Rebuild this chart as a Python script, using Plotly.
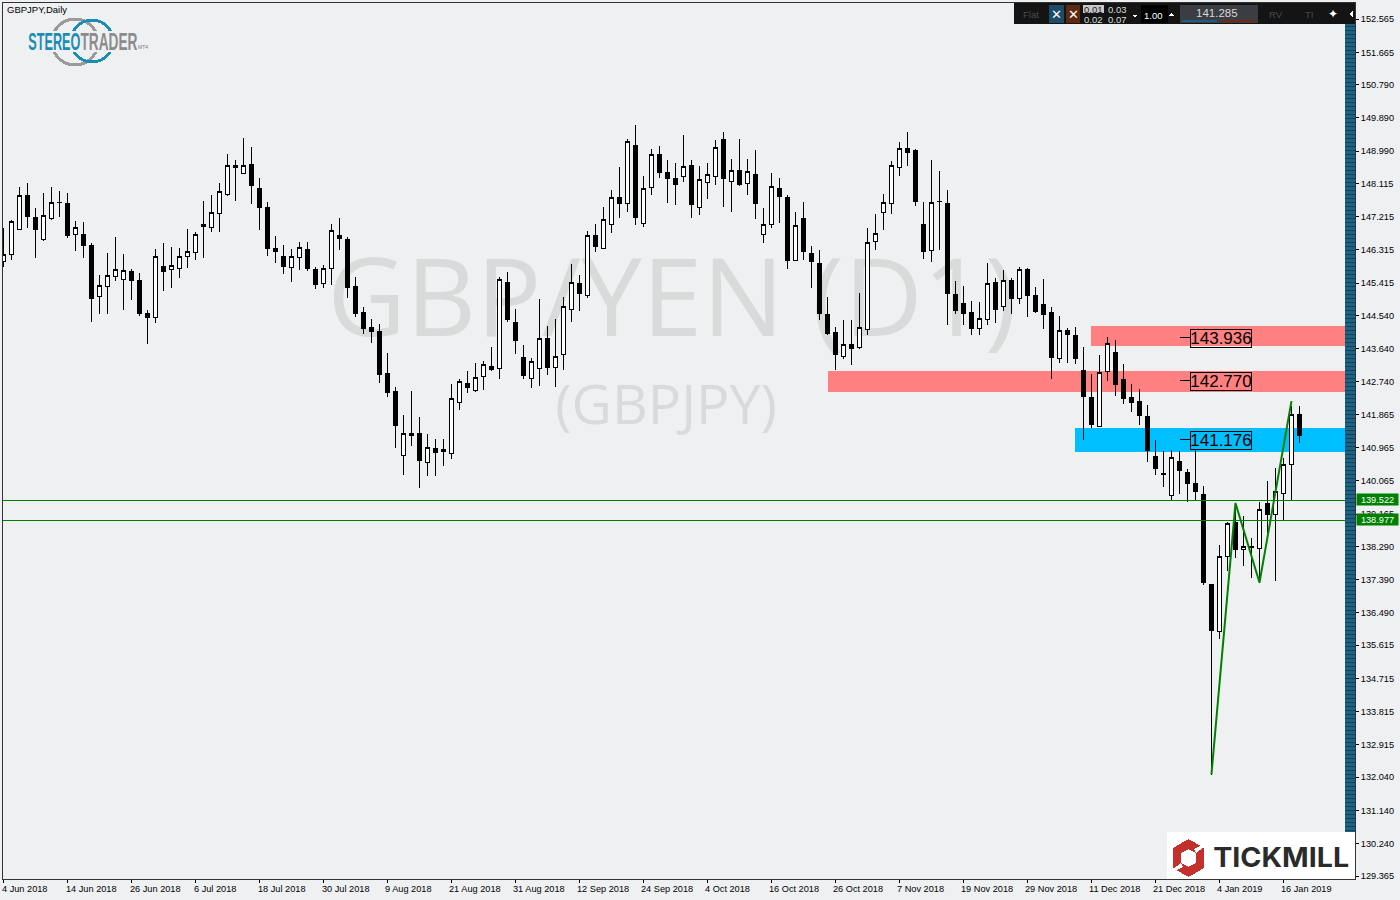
import plotly.graph_objects as go

opens = [146.01,146.20,146.87,147.79,147.20,146.60,147.17,147.59,147.58,146.74,
146.74,146.44,145.06,145.33,145.60,145.52,145.74,145.49,144.60,144.48,
145.87,145.79,145.82,146.14,146.25,147.01,146.93,147.30,147.82,148.59,
148.39,148.63,147.98,147.47,146.36,146.14,145.84,146.11,146.33,145.79,
145.40,145.82,146.71,146.60,145.33,144.63,144.22,144.11,142.97,142.49,
140.76,141.30,141.35,140.57,140.93,140.90,140.81,142.19,142.69,142.51,
142.90,143.17,143.11,145.44,144.36,143.41,142.84,143.11,143.92,143.14,
143.49,144.71,145.41,145.09,146.71,146.36,147.01,147.74,147.58,149.15,
147.03,148.01,148.90,148.41,148.25,148.30,148.60,147.47,148.14,148.31,
149.31,148.17,148.47,148.12,148.36,146.74,147.01,147.98,147.74,146.03,
147.17,146.22,145.95,144.57,144.09,143.44,143.76,143.68,144.17,146.55,
147.33,147.58,148.55,149.05,149.02,147.01,146.30,147.63,147.58,145.11,
144.87,144.63,144.19,144.43,145.44,144.79,145.49,145.01,145.79,145.09,
144.84,144.62,143.38,144.14,144.00,143.05,142.32,141.54,143.03,143.54,
142.81,142.32,142.22,141.81,140.73,140.27,139.67,140.59,140.30,140.00,
139.70,137.26,135.99,138.02,138.94,138.21,138.29,138.24,139.46,139.16,
139.72,140.51,141.86]
highs = [146.90,147.12,148.02,148.13,147.44,147.85,148.02,147.91,147.85,147.10,
147.06,146.49,145.63,146.23,146.66,146.20,145.79,145.68,144.68,146.33,
146.49,146.39,146.37,146.87,146.79,147.63,147.79,148.14,148.91,148.75,
149.34,149.09,148.25,147.60,146.68,146.44,146.33,146.52,146.52,145.84,
145.92,147.03,147.17,146.66,145.57,144.76,144.44,144.30,143.52,142.60,
141.84,142.49,141.78,141.32,141.19,141.21,142.68,142.81,143.03,143.25,
143.30,143.68,145.57,145.71,144.71,143.73,143.38,144.98,144.25,144.44,
145.03,145.93,145.65,146.82,147.03,147.47,147.93,148.55,149.31,149.71,
148.31,149.04,149.12,148.74,148.67,149.44,148.74,148.60,148.66,149.28,
149.52,148.77,149.31,148.79,149.01,147.44,148.41,148.25,147.79,147.33,
147.60,146.41,146.30,145.03,144.22,144.41,144.41,145.14,146.90,147.28,
147.82,148.71,149.25,149.50,149.06,147.60,148.74,148.44,147.93,145.47,
145.33,144.92,144.90,145.95,145.55,145.76,145.55,145.84,145.82,145.30,
145.52,144.76,144.54,144.19,144.22,143.70,142.95,143.46,143.95,143.87,
143.24,142.68,142.54,142.11,141.16,140.86,140.89,140.86,140.38,140.89,
139.92,137.26,138.33,138.94,139.45,139.10,138.53,139.48,140.05,140.40,
140.67,142.10,142.08]
lows = [145.84,146.04,146.87,146.92,146.10,146.57,147.13,147.20,146.65,146.29,
146.11,144.37,144.59,144.59,145.48,144.70,144.97,144.54,143.78,144.35,
145.19,145.29,145.56,145.83,146.05,146.11,146.81,146.81,147.78,147.65,
148.39,147.57,146.86,146.16,145.97,145.67,145.46,145.78,145.75,145.27,
145.29,145.37,146.32,145.02,144.51,144.05,143.80,142.72,142.34,140.94,
140.23,141.02,139.88,140.20,140.19,140.46,140.66,141.98,142.43,142.48,
142.53,143.05,142.83,144.37,143.51,142.83,142.59,142.64,142.94,142.61,
143.07,144.37,144.67,145.02,146.27,146.33,146.78,147.19,147.35,147.00,
146.94,147.81,148.27,147.59,147.54,148.16,147.19,147.27,147.70,148.08,
147.49,147.35,148.05,147.81,147.16,146.51,146.92,147.05,145.81,146.03,
146.05,145.29,144.43,144.02,143.07,143.35,143.21,143.62,144.02,146.30,
146.86,147.30,148.33,148.60,147.51,146.08,146.00,146.32,144.27,144.59,
144.29,144.02,144.02,144.27,144.35,144.65,144.59,144.86,144.51,144.60,
144.18,142.83,143.26,143.26,143.23,141.18,141.50,141.54,142.78,142.37,
142.15,141.94,141.58,140.58,140.23,139.91,139.55,139.72,139.50,139.53,
137.25,132.10,135.77,137.62,137.98,137.77,137.44,137.31,138.64,137.36,
139.01,139.51,141.10]
closes = [146.20,147.09,147.79,147.21,146.87,147.25,147.60,147.60,146.70,146.93,
146.43,144.99,145.36,145.63,145.79,145.76,145.48,144.59,144.48,146.14,
145.73,145.90,146.14,146.28,146.74,146.94,147.33,147.90,148.60,148.54,
148.60,148.05,147.46,146.35,146.27,145.86,146.14,146.38,145.81,145.37,
145.82,146.84,146.62,145.29,144.59,144.18,144.10,142.94,142.45,141.56,
141.35,141.35,140.61,140.97,140.83,140.85,142.30,142.76,142.59,142.87,
143.22,143.07,145.52,144.43,143.87,142.91,143.30,143.92,143.13,143.44,
144.79,145.44,145.14,146.71,146.41,147.14,147.74,147.58,149.25,147.19,
147.98,148.90,148.41,148.24,148.08,148.58,147.54,148.22,148.36,149.09,
148.24,148.47,148.08,148.44,147.57,147.01,148.04,147.76,146.02,146.98,
146.27,146.00,144.59,144.05,143.48,143.76,143.65,144.22,146.52,146.76,
147.60,148.60,149.06,148.95,147.62,146.27,147.60,147.62,145.13,144.67,
144.59,144.19,144.46,145.41,144.70,145.49,145.00,145.79,145.08,144.65,
144.56,143.41,144.14,144.02,143.37,142.34,141.58,143.00,143.79,142.67,
142.29,142.18,141.83,140.88,140.39,140.23,140.70,140.34,139.99,139.77,
137.31,136.01,138.02,138.91,138.20,138.29,138.26,139.29,139.16,139.78,
140.51,141.86,141.30]

date_labels = ["4 Jun 2018","14 Jun 2018","26 Jun 2018","6 Jul 2018","18 Jul 2018","30 Jul 2018",
"9 Aug 2018","21 Aug 2018","31 Aug 2018","12 Sep 2018","24 Sep 2018","4 Oct 2018","16 Oct 2018",
"26 Oct 2018","7 Nov 2018","19 Nov 2018","29 Nov 2018","11 Dec 2018","21 Dec 2018","4 Jan 2019","16 Jan 2019"]
date_bars = [i * 8 for i in range(len(date_labels))]

price_ticks = [152.565,151.665,150.790,149.890,148.990,148.115,147.215,146.315,145.415,144.540,
143.640,142.740,141.865,140.965,140.065,139.165,138.290,137.390,136.490,135.615,134.715,
133.815,132.915,132.040,131.140,130.240,129.365]

support_lines = [139.522, 138.977]
zone_labels = [143.936, 142.770, 141.176]
zone_tops = [144.255, 143.036, 141.494]
zone_bottoms = [143.713, 142.468, 140.844]
zone_starts = [135.94, 103.06, 133.94]
zone_colors = ["#FF8080", "#FF8080", "#00BFFF"]
wave_bars = [151, 154, 157, 161]
wave_prices = [132.12, 139.46, 137.31, 142.22]

FONT = "Liberation Sans"
ZONE_END = 167.69

def px(x):
    return (x - 3) / 1352
def py(y):
    return (879 - y) / 876

shapes = []
annotations = []

def rect(x0, y0, x1, y1, fill, line=None):
    shapes.append(dict(type="rect", xref="paper", yref="paper", x0=px(x0), x1=px(x1), y0=py(y0), y1=py(y1),
                       fillcolor=fill, line=dict(width=1 if line else 0, color=line or fill), layer="above"))

def txt(x, y, s, size=10, color="#000000", anchor="center", family=FONT, weight=None):
    f = dict(size=size, color=color, family=family)
    if weight:
        f["weight"] = weight
    annotations.append(dict(xref="paper", yref="paper", x=px(x), y=py(y), text=s, showarrow=False,
                            xanchor=anchor, yanchor="middle", font=f, borderpad=0, borderwidth=0))

def poly(points, fill):
    path = "M " + " L ".join(f"{px(a):.5f},{py(b):.5f}" for a, b in points) + " Z"
    shapes.append(dict(type="path", xref="paper", yref="paper", path=path, fillcolor=fill, line=dict(width=0), layer="above"))

# zones below the candles
for t, b, s, c in zip(zone_tops, zone_bottoms, zone_starts, zone_colors):
    shapes.append(dict(type="rect", xref="x2", yref="y2", x0=s, x1=ZONE_END, y0=b, y1=t,
                       fillcolor=c, line=dict(width=0), layer="below"))

# support lines
for v in support_lines:
    shapes.append(dict(type="line", xref="paper", yref="y2", x0=0, x1=1, y0=v, y1=v,
                       line=dict(color="#008000", width=1), layer="above"))
    annotations.append(dict(xref="paper", yref="y2", x=px(1356), y=v, text=f"{v:.3f}", showarrow=False,
                            xanchor="left", yanchor="middle", width=41, height=11, bgcolor="#008000", yshift=1,
                            font=dict(size=9.2, color="#FFFFFF", family=FONT), borderpad=0))

# zone labels
for v in zone_labels:
    shapes.append(dict(type="line", xref="x2", yref="y2", x0=147.06, x1=148.31, y0=v, y1=v,
                       line=dict(color="#000000", width=1), layer="above"))
    annotations.append(dict(xref="x2", yref="y2", x=152.19, y=v, text=f"{v:.3f}", showarrow=False,
                            xanchor="center", yanchor="middle", width=60, height=17, yshift=-1,
                            bordercolor="#000000", borderwidth=1, borderpad=0,
                            font=dict(size=17, color="#000000", family=FONT)))

# date labels
for b, s in zip(date_bars, date_labels):
    annotations.append(dict(xref="x2", yref="paper", x=b, y=0, text=s, showarrow=False, xanchor="left",
                            yanchor="top", yshift=-3, xshift=-4, font=dict(size=9.2, color="#000000", family=FONT)))

# striped strip
rect(1345, 24, 1355, 832, "#1E6384")
stripe = " ".join(f"M {px(1345):.5f},{py(y + 0.5):.5f} L {px(1355):.5f},{py(y + 0.5):.5f}" for y in range(26, 832, 4))
shapes.append(dict(type="path", xref="paper", yref="paper", path=stripe, line=dict(color="#123F57", width=1), layer="above"))

# tickmill logo
rect(1167, 832, 1355, 879, "#FFFFFF")
poly([(1188.5, 839), (1204, 848), (1204, 868), (1188.5, 877), (1173, 868), (1173, 848)], "#C4302B")
poly([(1188.5, 849), (1196, 853), (1196, 863), (1188.5, 867), (1181, 863), (1181, 853)], "#FFFFFF")
poly([(1194, 849), (1204, 844), (1204, 847), (1196, 853)], "#FFFFFF")
poly([(1183, 867), (1173, 872), (1173, 869), (1181, 863)], "#FFFFFF")
txt(1281, 857.5, "TICKMILL", 27, "#2B2B2B", "center", "Inter", 700)

# stereotrader logo
for cx, cy, r, c in [(75, 42, 23, "#9A9A9A"), (92, 41, 21, "#1B8DB4")]:
    shapes.append(dict(type="circle", xref="paper", yref="paper", x0=px(cx - r), x1=px(cx + r), y0=py(cy + r), y1=py(cy - r),
                       line=dict(color=c, width=3), fillcolor="rgba(0,0,0,0)", layer="above"))
rect(26, 31, 136, 52, "#EFF0F2")
txt(54, 42, "STEREO", 23, "#1B8DB4", "center", FONT, 700)
txt(109, 42, "TRADER", 23, "#8C8C8C", "center", FONT, 700)
txt(143, 47, "MT4", 5, "#777777", "center")
txt(7, 10, "GBPJPY,Daily", 9.5, "#000000", "left")

# toolbar
rect(1014, 3, 1355, 24, "#141414")
txt(1031, 14, "Flat", 9.5, "#4A4A4A")
rect(1049, 5, 1064, 23, "#1D4D66")
txt(1056.5, 14, "✕", 13, "#FFFFFF")
rect(1066, 5, 1080, 23, "#5C2A12")
txt(1073, 14, "✕", 13, "#FFFFFF")
rect(1083, 5, 1104, 13, "#C8C8C8")
txt(1093.5, 9, "0.01", 9.5, "#222222")
txt(1093.5, 19, "0.02", 9.5, "#DDDDDD")
txt(1117, 9, "0.03", 9.5, "#DDDDDD")
txt(1117, 19, "0.07", 9.5, "#DDDDDD")
poly([(1132, 15), (1138, 15), (1135, 18)], "#FFFFFF")
rect(1141, 5, 1168, 23, "#000000")
txt(1153, 15, "1.00", 9.5, "#FFFFFF")
poly([(1169, 16), (1175, 16), (1172, 13)], "#FFFFFF")
rect(1180, 5, 1258, 23, "#3C3C44")
txt(1217, 13, "141.285", 11.5, "#D8D8D8")
rect(1182, 20, 1217, 22, "#1D5F80")
rect(1221, 20, 1255, 22, "#6E2A12")
txt(1276, 14, "RV", 9.5, "#4A4A4A")
txt(1309, 14, "TI", 9.5, "#4A4A4A")
txt(1333, 14, "✦", 12, "#FFFFFF")
poly([(1353, 11), (1353, 17), (1350, 14)], "#FFFFFF")

fig = go.Figure()
# watermark sits on the lower subplot so the candles draw over it
fig.add_trace(go.Scatter(x=[px(672), px(666)], y=[py(309), py(410)], mode="text",
                         text=["GBP/YEN (D1)", "(GBPJPY)"],
                         textfont=dict(size=[108.5, 55.5], color="#D9DBDB", family="Open Sans"),
                         textposition="middle center", hoverinfo="skip", showlegend=False, xaxis="x", yaxis="y"))
fig.add_trace(go.Candlestick(x=list(range(len(opens))), open=opens, high=highs, low=lows, close=closes,
                             xaxis="x2", yaxis="y2", whiskerwidth=0, hoverinfo="skip", showlegend=False,
                             increasing=dict(line=dict(color="#000000", width=1), fillcolor="#FFFFFF"),
                             decreasing=dict(line=dict(color="#000000", width=1), fillcolor="#000000")))
fig.add_trace(go.Scatter(x=wave_bars, y=wave_prices, mode="lines", line=dict(color="#008000", width=2),
                         xaxis="x2", yaxis="y2", hoverinfo="skip", showlegend=False))

fig.update_layout(
    width=1400, height=900, autosize=False,
    margin=dict(l=3, r=45, t=3, b=21, pad=0),
    paper_bgcolor="#EFF0F2", plot_bgcolor="#EFF0F2",
    showlegend=False, boxgap=0.4,
    xaxis=dict(visible=False, range=[0, 1], fixedrange=True),
    yaxis=dict(visible=False, range=[0, 1], fixedrange=True),
    xaxis2=dict(overlaying="x", anchor="y2", range=[-0.0625, 168.94], tickmode="array", tickvals=date_bars,
                ticktext=[""] * len(date_bars), ticks="outside", ticklen=3, tickcolor="#000000",
                showgrid=False, zeroline=False, rangeslider=dict(visible=False),
                showline=True, linecolor="#333333", linewidth=1, mirror=True),
    yaxis2=dict(overlaying="y", anchor="x2", side="right", range=[129.285, 153.0], tickmode="array",
                tickvals=price_ticks, ticktext=[f"{v:.3f}" for v in price_ticks], ticks="outside", ticklen=3,
                tickcolor="#000000", showgrid=False, zeroline=False,
                tickfont=dict(size=9.2, color="#000000", family=FONT),
                showline=True, linecolor="#333333", linewidth=1, mirror=True),
    shapes=shapes, annotations=annotations,
)

post = """
document.body.style.margin='0';document.documentElement.style.overflow='hidden';
function tweak(){
  var w={'STEREO':52,'TRADER':57,'TICKMILL':136};
  document.querySelectorAll('.annotation-text').forEach(function(t){
    var s=t.textContent;
    if(w[s]){
      t.setAttribute('textLength',w[s]);t.setAttribute('lengthAdjust','spacingAndGlyphs');
      t.parentNode.querySelectorAll('rect').forEach(function(r){r.setAttribute('width',0);r.setAttribute('height',0);});
    }
  });
  document.querySelectorAll('.shapelayer path, .boxes path').forEach(function(p){p.style.shapeRendering='crispEdges';});
}
tweak();setTimeout(tweak,50);
"""
fig.write_html("out.html", config=dict(displayModeBar=False), post_script=post)
